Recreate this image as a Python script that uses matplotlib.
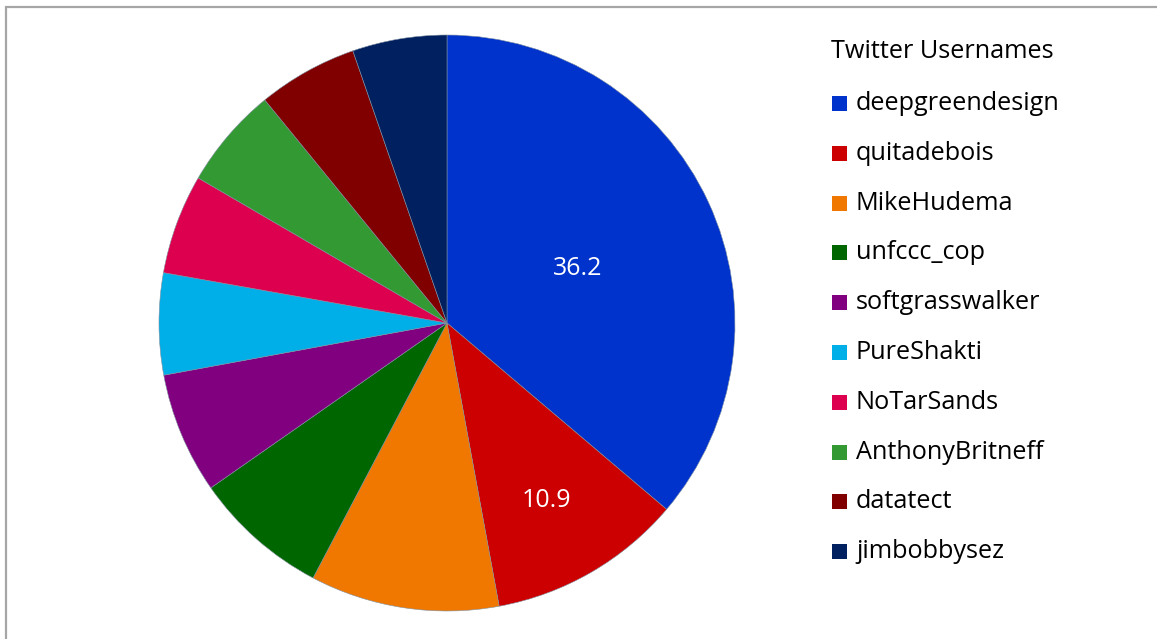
import matplotlib.pyplot as plt
import numpy as np
from matplotlib.patches import Rectangle

# Share of tweets per account (percent)
usernames = [
    "deepgreendesign", "quitadebois", "MikeHudema", "unfccc_cop",
    "softgrasswalker", "PureShakti", "NoTarSands", "AnthonyBritneff",
    "datatect", "jimbobbysez",
]
shares = [36.2, 10.9, 10.6, 7.6, 6.8, 5.7, 5.6, 5.7, 5.6, 5.3]
colors = [
    "#0033cc", "#cc0000", "#f07800", "#006600", "#800080",
    "#00aee8", "#dc004e", "#339933", "#800000", "#002060",
]
# only the two largest slices carry a value label
labelled = {0: 0.50, 1: 0.69}

W, H = 1157, 639
fig = plt.figure(figsize=(W / 100, H / 100), dpi=100)
plt.rcParams["font.family"] = ["Open Sans", "DejaVu Sans"]

# thin grey frame along top and left
fig.patches.append(Rectangle((6 / W, -0.1), 1.2, (H - 7) / H + 0.1,
                             transform=fig.transFigure, fill=False,
                             edgecolor="#a6a6a6", linewidth=1.6))

cx, cy, r = 447, 323, 288
ax = fig.add_axes([(cx - r) / W, (H - cy - r) / H, 2 * r / W, 2 * r / H])
wedges, _ = ax.pie(shares, colors=colors, startangle=90, counterclock=False,
                   radius=1.0, wedgeprops=dict(linewidth=0.4, edgecolor="#8090a0"))
ax.set_xlim(-1, 1)
ax.set_ylim(-1, 1)
ax.axis("off")

for i, dist in labelled.items():
    w = wedges[i]
    mid = np.deg2rad((w.theta1 + w.theta2) / 2)
    ax.text(dist * np.cos(mid), dist * np.sin(mid) - 0.02, f"{shares[i]:.1f}",
            color="white", fontsize=18, ha="center", va="center")

# legend drawn by hand
fig.text(831 / W, 1 - 52 / H, "Twitter Usernames", fontsize=18.2,
         ha="left", va="center")
for i, (name, c) in enumerate(zip(usernames, colors)):
    yc = 103.5 + i * 49.8
    fig.patches.append(Rectangle((832 / W, 1 - (yc + 7.5) / H), 15 / W, 15 / H,
                                 transform=fig.transFigure, facecolor=c,
                                 edgecolor="none"))
    fig.text(856 / W, 1 - yc / H, name, fontsize=18.2, ha="left", va="center")

fig.savefig("out.png", dpi=100)
